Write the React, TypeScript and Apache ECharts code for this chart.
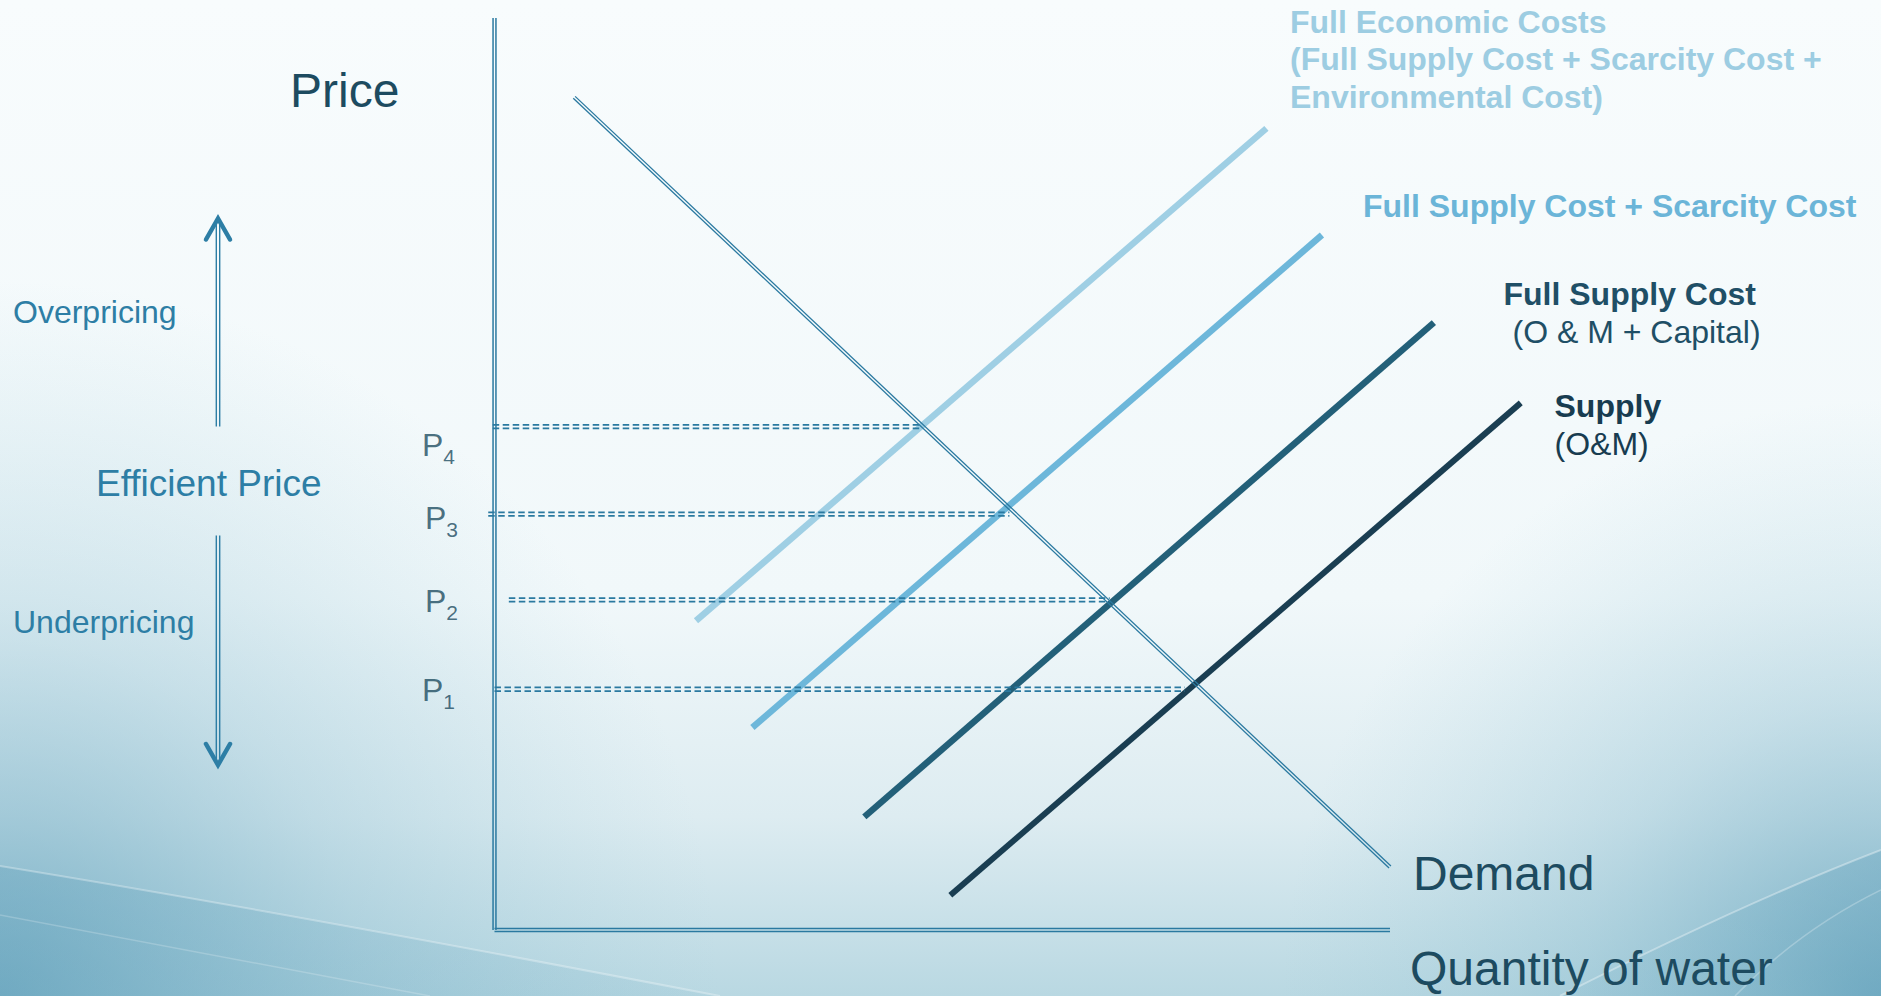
import React, { useEffect, useRef } from "react";
import * as echarts from "echarts";

const FONT = "'Liberation Sans', Arial, Helvetica, sans-serif";

// Curve end points as [quantity, price]
const demandCurve = [[8.9, 91.3], [100.0, 6.9]];
const fullEconomicCostCurve = [[22.5, 33.9], [86.2, 87.9]];
const supplyScarcityCurve = [[28.8, 22.2], [92.4, 76.2]];
const fullSupplyCostCurve = [[41.3, 12.4], [104.9, 66.6]];
const supplyOMCurve = [[50.9, 3.8], [114.6, 57.8]];

// Price levels P1..P4 and the quantity span of their guide lines
const priceLevelNames = ["1", "2", "3", "4"];
const priceLevels = [26.4, 36.2, 45.6, 55.2];
const priceLineFrom = [0, 1.6, -0.7, -0.2];
const priceLineTo = [77.1, 68.7, 57.5, 47.8];

// Axis extents
const quantityAxisMax = 100;
const priceAxisMax = 100;

// Side annotations
const overpricingText = "Overpricing";
const efficientPriceText = "Efficient Price";
const underpricingText = "Underpricing";
const fullEconomicText = "Full Economic Costs\n(Full Supply Cost + Scarcity Cost +\nEnvironmental Cost)";
const scarcityText = "Full Supply Cost + Scarcity Cost";
const fullSupplyText = "Full Supply Cost";
const fullSupplySubText = "(O & M + Capital)";
const supplyText = "Supply";
const supplySubText = "(O&M)";

// Background swooshes
const BG_PATHS: Record<string, string> = {
  bgBandLeft: "M0,866 C 240,905 480,950 720,996 L0,996 Z",
  bgCurveLeftA: "M0,866 C 240,905 480,950 720,996",
  bgCurveLeftB: "M0,915 C 140,940 280,968 430,996",
  bgBandRight: "M1881,850 C 1790,885 1680,935 1560,996 L1881,996 Z",
  bgCurveRightA: "M1881,850 C 1790,885 1680,935 1560,996",
  bgCurveRightB: "M1881,890 C 1830,915 1780,950 1735,996",
};
Object.keys(BG_PATHS).forEach((k) => {
  echarts.graphic.registerShape(k, echarts.graphic.extendPath(BG_PATHS[k], {}) as any);
});

const AXIS_BLUE = "#2a79a0";
const DARK_TEXT = "#1d4b60";
const SIDE_BLUE = "#2d7ea5";

function doubleLineSeries(
  name: string,
  segments: number[][],
  color: string,
  gap: number,
  width: number,
  z: number,
  dash?: number[]
) {
  return {
    type: "custom",
    name,
    z,
    silent: true,
    clip: false,
    data: segments,
    encode: { x: [0, 2], y: [1, 3] },
    renderItem: (_params: any, api: any) => {
      const a = api.coord([api.value(0), api.value(1)]);
      const b = api.coord([api.value(2), api.value(3)]);
      const dx = b[0] - a[0];
      const dy = b[1] - a[1];
      const len = Math.hypot(dx, dy) || 1;
      const nx = (-dy / len) * (gap / 2);
      const ny = (dx / len) * (gap / 2);
      const mk = (s: number) => ({
        type: "line",
        shape: { x1: a[0] + nx * s, y1: a[1] + ny * s, x2: b[0] + nx * s, y2: b[1] + ny * s },
        style: { stroke: color, lineWidth: width, fill: null, lineDash: dash || null },
      });
      return { type: "group", children: [mk(1), mk(-1)] };
    },
  };
}

function curveSeries(name: string, pts: number[][], color: string, width: number) {
  return {
    type: "line",
    name,
    z: 2,
    silent: true,
    data: pts,
    symbol: "none",
    lineStyle: { color, width, cap: "butt" },
  };
}

function textEl(
  text: string,
  x: number,
  y: number,
  size: number,
  fill: string,
  weight: string = "normal",
  lineHeight?: number
) {
  return {
    type: "text",
    x,
    y,
    z: 20,
    silent: true,
    style: {
      text,
      fill,
      fontFamily: FONT,
      fontSize: size,
      fontWeight: weight,
      align: "left",
      verticalAlign: "middle",
      lineHeight: lineHeight || size,
    },
  };
}

function arrow(x: number, from: number, to: number) {
  // double shaft with an open chevron head at "to"
  const dir = to > from ? 1 : -1;
  const headH = 21;
  const headW = 12;
  const gap = 1.7;
  return {
    type: "group",
    z: 15,
    silent: true,
    children: [
      { type: "line", shape: { x1: x - gap, y1: from, x2: x - gap, y2: to - dir * 3 }, style: { stroke: SIDE_BLUE, lineWidth: 1.4 } },
      { type: "line", shape: { x1: x + gap, y1: from, x2: x + gap, y2: to - dir * 3 }, style: { stroke: SIDE_BLUE, lineWidth: 1.4 } },
      {
        type: "polyline",
        shape: { points: [[x - headW, to - dir * headH], [x, to], [x + headW, to - dir * headH]] },
        style: { stroke: SIDE_BLUE, lineWidth: 4.5, fill: null, lineJoin: "miter", lineCap: "round" },
      },
    ],
  };
}

function buildOption() {
  const pLabelShift: Record<string, number[]> = {
    "1": [-3, 0.7],
    "2": [0, 1.2],
    "3": [0, 3.9],
    "4": [-3, 18.6],
  };

  const bgEls: any[] = [
    {
      type: "rect",
      z: -10,
      silent: true,
      shape: { x: 0, y: 0, width: 1881, height: 996 },
      style: {
        fill: new echarts.graphic.LinearGradient(0, 0, 0, 1, [
          { offset: 0, color: "#f8fcfd" },
          { offset: 0.6, color: "#f1f8fa" },
          { offset: 0.82, color: "#ddecf1" },
          { offset: 1, color: "#b9d8e2" },
        ]),
      },
    },
    {
      type: "rect",
      z: -9,
      silent: true,
      shape: { x: 0, y: 0, width: 1881, height: 996 },
      style: {
        fill: new echarts.graphic.RadialGradient(0, 1000, 720, [
          { offset: 0, color: "rgba(96,160,186,0.75)" },
          { offset: 0.5, color: "rgba(120,178,200,0.3)" },
          { offset: 1, color: "rgba(150,200,215,0)" },
        ], true),
      },
    },
    {
      type: "rect",
      z: -9,
      silent: true,
      shape: { x: 0, y: 0, width: 1881, height: 996 },
      style: {
        fill: new echarts.graphic.RadialGradient(1881, 1000, 600, [
          { offset: 0, color: "rgba(96,160,186,0.75)" },
          { offset: 0.5, color: "rgba(120,178,200,0.3)" },
          { offset: 1, color: "rgba(150,200,215,0)" },
        ], true),
      },
    },
    {
      type: "bgBandLeft",
      z: -8,
      silent: true,
      style: {
        fill: new echarts.graphic.LinearGradient(0, 0, 1, 0, [
          { offset: 0, color: "rgba(100,162,188,0.35)" },
          { offset: 1, color: "rgba(120,178,200,0.1)" },
        ]),
      },
    },
    { type: "bgCurveLeftA", z: -7, silent: true, style: { fill: null, stroke: "rgba(255,255,255,0.3)", lineWidth: 2 } },
    { type: "bgCurveLeftB", z: -7, silent: true, style: { fill: null, stroke: "rgba(255,255,255,0.2)", lineWidth: 1.5 } },
    {
      type: "bgBandRight",
      z: -8,
      silent: true,
      style: {
        fill: new echarts.graphic.LinearGradient(1, 0, 0, 0, [
          { offset: 0, color: "rgba(100,162,188,0.35)" },
          { offset: 1, color: "rgba(120,178,200,0.1)" },
        ]),
      },
    },
    { type: "bgCurveRightA", z: -7, silent: true, style: { fill: null, stroke: "rgba(255,255,255,0.35)", lineWidth: 2 } },
    { type: "bgCurveRightB", z: -7, silent: true, style: { fill: null, stroke: "rgba(255,255,255,0.25)", lineWidth: 1.5 } },
  ];

  const textEls: any[] = [
    textEl("Price", 290, 90.4, 48, DARK_TEXT),
    textEl(overpricingText, 13, 312, 32, SIDE_BLUE),
    textEl(efficientPriceText, 96, 483.5, 37, SIDE_BLUE),
    textEl(underpricingText, 13, 622, 32, SIDE_BLUE),
    textEl(fullEconomicText, 1290, 59.4, 32, "#9dcde2", "bold", 37.5),
    textEl(scarcityText, 1363, 205.6, 32, "#6bb5d8", "bold"),
    textEl(fullSupplyText, 1503.5, 293.9, 32, "#1f4f66", "bold"),
    textEl(fullSupplySubText, 1512.5, 331.9, 32, "#1f4f66"),
    textEl(supplyText, 1554.5, 405.6, 32, "#183c50", "bold"),
    textEl(supplySubText, 1554.5, 443.9, 32, "#183c50"),
    textEl("Demand", 1413, 873.4, 48, DARK_TEXT),
    textEl("Quantity of water", 1410, 968.4, 48, DARK_TEXT),
    arrow(218, 426.5, 218.5),
    arrow(218, 535.5, 765),
  ];

  const priceSegments = priceLevels.map((p, i) => [priceLineFrom[i], p, priceLineTo[i], p]);

  return {
    animation: false,
    grid: { left: 494.5, top: 18, width: 1074.6, height: 912, containLabel: false },
    xAxis: { type: "value", min: 0, max: 120, show: false },
    yAxis: { type: "value", min: 0, max: priceAxisMax, show: false },
    graphic: { elements: [...bgEls, ...textEls] },
    series: [
      curveSeries("Full Economic Costs", fullEconomicCostCurve, "#9fcfe4", 6.5),
      curveSeries("Full Supply Cost + Scarcity Cost", supplyScarcityCurve, "#6db7da", 6.5),
      curveSeries("Full Supply Cost", fullSupplyCostCurve, "#236079", 6.5),
      curveSeries("Supply", supplyOMCurve, "#1a3e52", 6),
      doubleLineSeries("Price levels", priceSegments, AXIS_BLUE, 3.6, 1.8, 3, [6.5, 3.5]),
      doubleLineSeries(
        "Axes",
        [
          [0, 0, 0, priceAxisMax],
          [0, 0, quantityAxisMax, 0],
        ],
        AXIS_BLUE,
        2.9,
        1.5,
        4
      ),
      doubleLineSeries(
        "Demand",
        [[demandCurve[0][0], demandCurve[0][1], demandCurve[1][0], demandCurve[1][1]]],
        AXIS_BLUE,
        2.7,
        1.3,
        5
      ),
      {
        type: "scatter",
        name: "P labels",
        z: 6,
        silent: true,
        symbolSize: 1,
        itemStyle: { color: "rgba(0,0,0,0)" },
        data: priceLevels.map((p, i) => ({
          value: [0, p],
          label: { offset: pLabelShift[priceLevelNames[i]] },
        })),
        label: {
          show: true,
          position: "left",
          distance: 36,
          formatter: (params: any) => `{p|P}{s|${priceLevelNames[params.dataIndex]}}`,
          rich: {
            p: { fontSize: 32, lineHeight: 32, color: DARK_TEXT, fontFamily: FONT },
            s: { fontSize: 21, lineHeight: 21, padding: [23, 0, 0, 0], color: DARK_TEXT, fontFamily: FONT },
          },
        },
      },
    ],
  };
}

export default function App() {
  const ref = useRef<HTMLDivElement>(null);
  useEffect(() => {
    document.body.style.margin = "0";
    const chart = echarts.init(ref.current as HTMLDivElement, null, { renderer: "svg" });
    chart.setOption(buildOption() as any);
    return () => chart.dispose();
  }, []);
  return (
    <div
      ref={ref}
      style={{ position: "absolute", left: 0, top: 0, width: 1881, height: 996, overflow: "hidden" }}
    />
  );
}
